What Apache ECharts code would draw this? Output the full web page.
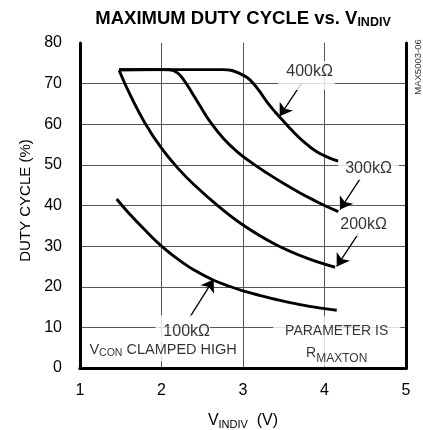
<!DOCTYPE html>
<html>
<head>
<meta charset="utf-8">
<script src="https://cdn.jsdelivr.net/npm/echarts@6/dist/echarts.min.js"></script>
<style>
  html, body { margin: 0; padding: 0; background: #fff; }
  #chart { width: 423px; height: 430px; }
</style>
</head>
<body>
<div id="chart"></div>
<script>
  // curves, x in volts, y in %
  var r100x = [1.45, 1.6, 1.8, 2.0, 2.2, 2.4, 2.64, 2.85, 3.0, 3.2, 3.42, 3.7, 4.0, 4.15]
  var r100y = [41.6, 38.1, 33.9, 30.0, 26.8, 24.1, 21.6, 20.0, 19.0, 17.9, 16.8, 15.6, 14.6, 14.2]
  var r200x = [1.48, 1.6, 1.8, 2.0, 2.2, 2.4, 2.7, 3.0, 3.4, 3.8, 4.13]
  var r200y = [73.3, 67.9, 60.2, 54.1, 49.2, 45.1, 39.8, 35.2, 30.4, 26.9, 24.8]
  var r300x = [1.48, 2.0, 2.1, 2.2, 2.27, 2.37, 2.47, 2.6, 2.76, 2.93, 3.1, 3.3, 3.5, 3.7, 3.9, 4.0, 4.17]
  var r300y = [73.4, 73.45, 73.4, 72.6, 71.0, 67.9, 64.6, 60.5, 56.5, 53.2, 50.6, 47.9, 45.4, 43.1, 41.0, 40.0, 38.5]
  var r400x = [1.48, 2.5, 2.75, 2.85, 2.95, 3.05, 3.12, 3.2, 3.3, 3.4, 3.5, 3.6, 3.75, 3.9, 4.05, 4.17]
  var r400y = [73.4, 73.45, 73.45, 73.3, 72.6, 71.5, 70.2, 68.2, 65.3, 62.9, 60.7, 58.5, 55.6, 53.3, 51.8, 50.9]

  var xTicks = [1, 2, 3, 4, 5]
  var yTicks = [0, 10, 20, 30, 40, 50, 60, 70, 80]

  // annotation texts, label anchor and arrow (from -> to) in data units
  var noteText = ['400kΩ', '300kΩ', '200kΩ', '100kΩ', 'V{s|CON} CLAMPED HIGH', 'PARAMETER IS\nR{s|MAXTON}']
  var noteAt = [[3.78, 72.0], [4.54, 49.0], [4.48, 35.2], [2.26, 9.8], [2.02, 4.7], [4.15, 6.6]]
  var noteArrow = [
    [[3.72, 70.1], [3.45, 62.0]],
    [[4.44, 46.7], [4.19, 39.0]],
    [[4.42, 33.2], [4.15, 25.0]],
    [[2.35, 12.6], [2.64, 21.8]]
  ]

  var font = '"Liberation Sans", Arial, sans-serif'
  var pads = [[2, 2, 9, 8], [2, 7, 2, 7], [2, 4, 2, 4], [7, 0, 1, 8], [5, 6, 3, 6], [4, 12, 2, 12]]
  var sizes = [16, 16, 16, 16, 14.5, 14]
  var subSizes = [11, 11, 11, 11, 10.5, 12]

  function pairs (xs, ys) {
    let out = []
    for (let i = 0; i < xs.length; i++) {
      out.push([xs[i], ys[i]])
    }
    return out
  }

  function curve (name, xs, ys) {
    return {
      name: name,
      type: 'line',
      data: pairs(xs, ys),
      smooth: 0.4,
      showSymbol: false,
      silent: true,
      lineStyle: { color: '#000', width: 2.9 },
      z: 3
    }
  }

  var labelData = []
  for (let i = 0; i < noteText.length; i++) {
    labelData.push({
      value: noteAt[i],
      name: noteText[i],
      label: {
        padding: pads[i],
        fontSize: sizes[i],
        lineHeight: i === 5 ? 22 : sizes[i] + 2,
        rich: { s: { fontSize: subSizes[i], fontFamily: font, color: '#000', padding: [5, 0, 0, 0], verticalAlign: 'bottom' } }
      }
    })
  }

  var arrowData = noteArrow.map(function (a) { return { coords: a } })

  var frame = { show: true, lineStyle: { color: '#000', width: 3 } }
  var gridLine = { color: '#555', width: 1 }

  var chart = echarts.init(document.getElementById('chart'))
  chart.setOption({
    animation: false,
    backgroundColor: '#fff',
    grid: { left: 80, right: 17, top: 43, bottom: 62, outerBoundsMode: 'none' },
    graphic: [
      {
        type: 'text',
        x: 243, y: 19,
        style: {
          text: 'MAXIMUM DUTY CYCLE vs. V{s|INDIV}',
          align: 'center', verticalAlign: 'middle',
          fill: '#000',
          font: 'bold 18.5px ' + font,
          rich: { s: { font: 'bold 12.5px ' + font, padding: [8, 0, 0, 0], verticalAlign: 'bottom' } }
        }
      },
      {
        type: 'text',
        x: 418, y: 67,
        rotation: Math.PI / 2,
        style: {
          text: 'MAX5003-06',
          align: 'center', verticalAlign: 'middle',
          fill: '#333',
          font: '9.5px ' + font
        }
      }
    ],
    xAxis: [
      {
        type: 'value',
        position: 'bottom',
        min: xTicks[0], max: xTicks[xTicks.length - 1], interval: 1,
        name: 'V{s|INDIV}  (V)',
        nameLocation: 'middle',
        nameGap: 44,
        nameTextStyle: {
          color: '#000', fontSize: 16, fontFamily: font,
          rich: { s: { fontSize: 11, fontFamily: font, color: '#000', padding: [7, 0, 0, 0], verticalAlign: 'bottom' } }
        },
        axisLine: frame,
        axisTick: { show: false },
        axisLabel: { color: '#000', fontSize: 16, fontFamily: font, margin: 15 },
        splitLine: { show: true, showMinLine: false, showMaxLine: false, lineStyle: gridLine }
      },
      {
        type: 'value',
        position: 'top',
        min: xTicks[0], max: xTicks[xTicks.length - 1], interval: 1,
        axisLine: frame,
        axisTick: { show: false },
        axisLabel: { show: false },
        splitLine: { show: false }
      }
    ],
    yAxis: [
      {
        type: 'value',
        position: 'left',
        min: yTicks[0], max: yTicks[yTicks.length - 1], interval: 10,
        name: 'DUTY CYCLE (%)',
        nameLocation: 'middle',
        nameGap: 47,
        nameTextStyle: { color: '#000', fontSize: 15, fontFamily: font, padding: [0, 0, 0, 10] },
        axisLine: frame,
        axisTick: { show: false },
        axisLabel: { color: '#000', fontSize: 16, fontFamily: font, margin: 18 },
        splitLine: { show: true, showMinLine: false, showMaxLine: false, lineStyle: gridLine }
      },
      {
        type: 'value',
        position: 'right',
        min: yTicks[0], max: yTicks[yTicks.length - 1], interval: 10,
        axisLine: frame,
        axisTick: { show: false },
        axisLabel: { show: false },
        splitLine: { show: false }
      }
    ],
    series: [
      curve('100kΩ', r100x, r100y),
      curve('200kΩ', r200x, r200y),
      curve('300kΩ', r300x, r300y),
      curve('400kΩ', r400x, r400y),
      {
        type: 'lines',
        coordinateSystem: 'cartesian2d',
        silent: true,
        symbol: ['none', 'arrow'],
        symbolSize: 12,
        lineStyle: { color: '#000', width: 1.3, opacity: 1 },
        data: arrowData,
        z: 4
      },
      {
        type: 'scatter',
        silent: true,
        symbolSize: 0,
        data: labelData,
        z: 5,
        label: {
          show: true,
          position: 'inside',
          align: 'center',
          verticalAlign: 'middle',
          color: '#000',
          fontFamily: font,
          backgroundColor: '#fff',
          formatter: function (p) { return p.name }
        }
      }
    ]
  })
</script>
</body>
</html>
